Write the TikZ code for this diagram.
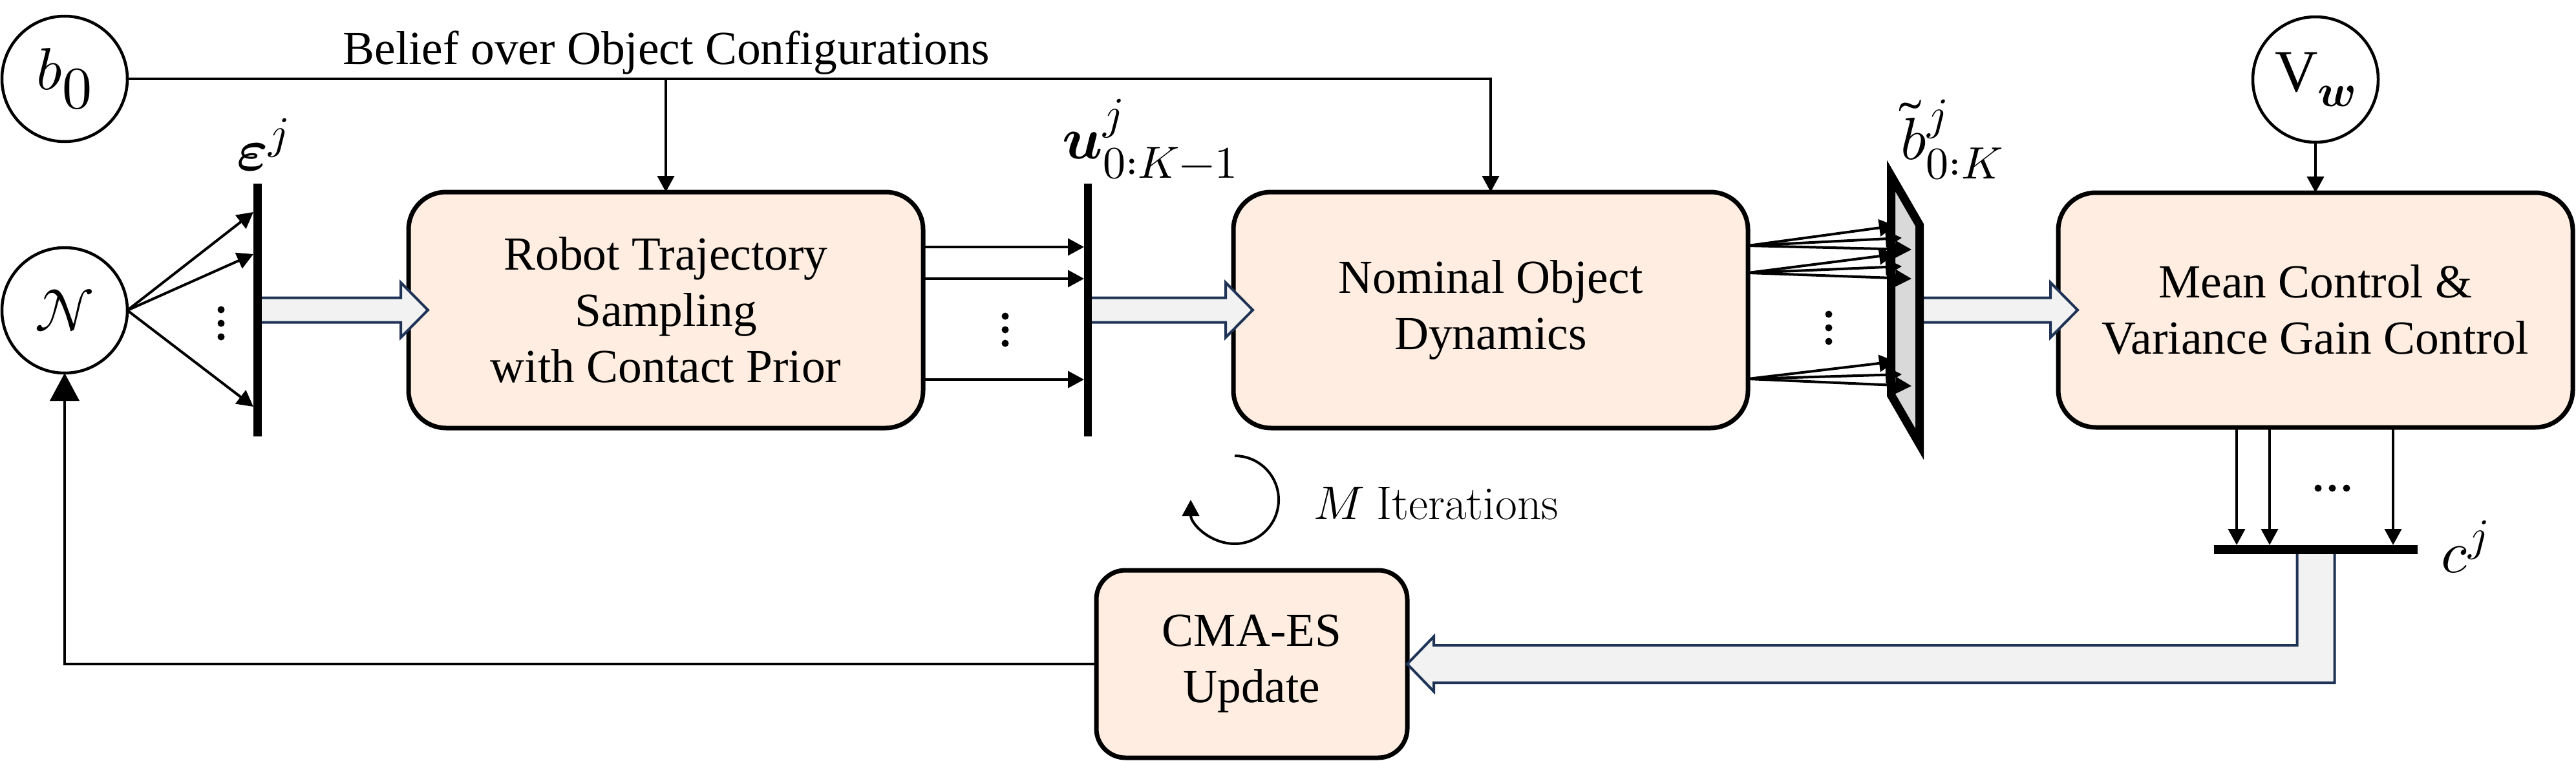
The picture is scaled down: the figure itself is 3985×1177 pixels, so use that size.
\documentclass[tikz,border=0pt]{standalone}
\usepackage{amsmath}
\usepackage{fontspec}
\usepackage{unicode-math}
\setmainfont{Liberation Serif}
\setmathfont{Latin Modern Math}
\newfontfamily\lmfont{Latin Modern Roman}
\DeclareMathSizes{46}{46}{35}{27}
\usetikzlibrary{arrows.meta,calc}
\definecolor{boxfill}{HTML}{FEEDE0}
\definecolor{fatfill}{HTML}{F2F2F2}
\definecolor{fatline}{HTML}{1F3356}
\definecolor{trapfill}{HTML}{D9D9D9}
\tikzset{
  box/.style={draw, line width=3.5pt, rounded corners=29pt, fill=boxfill, inner sep=0pt, outer sep=0pt,
    align=center, font=\fontsize{36.7pt}{43.5pt}\selectfont},
  circ/.style={draw, circle, line width=2.25pt, minimum size=97pt, inner sep=0pt, outer sep=0pt,
    font=\fontsize{46pt}{55pt}\selectfont},
  conn/.style={line width=2pt},
  arr/.style={conn, -{Triangle[length=12.5pt,width=13pt]}},
  bigarr/.style={conn, -{Triangle[length=21.5pt,width=22.5pt]}},
  fat/.style={fill=fatfill, draw=fatline, line width=2pt, line join=miter},
  lbl/.style={inner sep=0pt, font=\fontsize{46pt}{55pt}\selectfont},
  txt/.style={inner sep=0pt, font=\fontsize{36.7pt}{43.5pt}\selectfont},
}
\begin{document}
\begin{tikzpicture}[x=0.5pt, y=-0.5pt]
\useasboundingbox (0,0) rectangle (3985,1177);

% circles
\node[circ] (b0) at (100,122) {$b_{\textstyle 0}$};
\node[circ] (N) at (100,480) {$\mathcal{N}$};
\node[circ] (Vw) at (3582,123) {$\mathrm{V}_{\symbfit{w}}$};

% boxes
\node[box, minimum width=398pt, minimum height=182.5pt] (robot) at (1030,479.5)
  {Robot Trajectory\\Sampling\\with Contact Prior};
\node[box, minimum width=398pt, minimum height=182.5pt] (nominal) at (2306,479.5)
  {Nominal Object\\Dynamics};
\node[box, minimum width=398pt, minimum height=181.5pt] (mean) at (3582,479.5)
  {Mean Control \&\\Variance Gain Control};
\node[box, rounded corners=22.5pt, minimum width=240.5pt, minimum height=145pt] (cma) at (1936.5,1027)
  {CMA-ES\\Update};

% bars (corners)
\coordinate (epsSW) at (392,675); \coordinate (epsNE) at (405,284);
\coordinate (uSW) at (1677,675);  \coordinate (uNE) at (1689,284);
\coordinate (cSW) at (3425,857);  \coordinate (cNE) at (3740,843);
\coordinate (epsbar) at ($(epsSW)!0.5!(epsNE)$);
\coordinate (ubar) at ($(uSW)!0.5!(uNE)$);
\coordinate (cbar) at ($(cSW)!0.5!(cNE)$);

% trapezoid corners
\coordinate (trTL) at (2925.5,272);
\coordinate (trTR) at (2969.5,348);
\coordinate (trBR) at (2969.5,687);
\coordinate (trBL) at (2925.5,611);

% labels
\node[txt, anchor=base] (belief) at (1031,100) {Belief over Object Configurations};
\node[lbl, anchor=base west] (epslbl) at (366,263) {$\symbfit{\varepsilon}^{j}$};
\node[lbl, anchor=base west] (ulbl) at (1643,245) {$\symbfit{u}^{j}_{0:K-1}$};
\node[lbl, anchor=base west] (blbl) at (2940,246) {$\tilde{b}^{j}_{0:K}$};
\node[lbl, anchor=base west] (clbl) at (3776,885) {$c^{j}$};
\node[txt, anchor=base west] (iter) at (2032,803) {$M$ {\lmfont Iterations}};

% belief line
\draw[arr] (b0.east) -| (nominal.north);
\draw[arr] (robot.north |- b0.east) -- (robot.north);
\draw[arr] (Vw.south) -- (mean.north);

% N -> eps bar
\coordinate (e1) at (392,328);
\coordinate (e2) at (392,393);
\coordinate (e3) at (392,629);
\draw[arr] (N.east) -- (e1);
\draw[arr] (N.east) -- (e2);
\draw[arr] (N.east) -- (e3);

% robot -> u bar
\coordinate (u1) at (1677,382);
\coordinate (u2) at (1677,431);
\coordinate (u3) at (1677,587);
\draw[arr] (robot.east |- u1) -- (u1);
\draw[arr] (robot.east |- u2) -- (u2);
\draw[arr] (robot.east |- u3) -- (u3);

% mean -> c bar
\coordinate (m1) at (3460,843);
\coordinate (m2) at (3511,843);
\coordinate (m3) at (3702,843);
\draw[arr] (mean.south -| m1) -- (m1);
\draw[arr] (mean.south -| m2) -- (m2);
\draw[arr] (mean.south -| m3) -- (m3);

% feedback
\draw[bigarr] (cma.west) -| (N.south);

% fat arrows
\draw[fat] let \p1=(epsbar), \p2=(robot.west) in
  (\x1,\y2+9.5pt) -- (\x2-6pt,\y2+9.5pt) -- (\x2-6pt,\y2+21.25pt) -- (\x2+15pt,\y2)
  -- (\x2-6pt,\y2-21.25pt) -- (\x2-6pt,\y2-9.5pt) -- (\x1,\y2-9.5pt) -- cycle;
\draw[fat] let \p1=(ubar), \p2=(nominal.west) in
  (\x1,\y2+9.5pt) -- (\x2-6pt,\y2+9.5pt) -- (\x2-6pt,\y2+21.25pt) -- (\x2+15pt,\y2)
  -- (\x2-6pt,\y2-21.25pt) -- (\x2-6pt,\y2-9.5pt) -- (\x1,\y2-9.5pt) -- cycle;
\draw[fat] let \p1=(trTR), \p2=(mean.west) in
  (\x1,\y2+9.5pt) -- (\x2-6pt,\y2+9.5pt) -- (\x2-6pt,\y2+21.25pt) -- (\x2+15pt,\y2)
  -- (\x2-6pt,\y2-21.25pt) -- (\x2-6pt,\y2-9.5pt) -- (\x1,\y2-9.5pt) -- cycle;
\draw[fat] let \p1=(cbar), \p2=(cma.east) in
  (\x1-14.5pt,\y1) -- (\x1+14.5pt,\y1) -- (\x1+14.5pt,\y2-14.5pt) -- (\x2+20.5pt,\y2-14.5pt)
  -- (\x2+20.5pt,\y2-21.25pt) -- (\x2,\y2) -- (\x2+20.5pt,\y2+21.25pt) -- (\x2+20.5pt,\y2+14.5pt)
  -- (\x1-14.5pt,\y2+14.5pt) -- cycle;

% bars
\fill (epsSW) rectangle (epsNE);
\fill (uSW) rectangle (uNE);
\fill (cSW) rectangle (cNE);

% trapezoid
\draw[fill=trapfill, line width=6.5pt, line join=miter, miter limit=20] (trTL) -- (trTR) -- (trBR) -- (trBL) -- cycle;

% fans: nominal -> trapezoid
\coordinate (f1) at (2704,380);
\coordinate (f2) at (2704,422);
\coordinate (f3) at (2704,586);
\coordinate (t11) at (2932,349);
\coordinate (t12) at (2942,368);
\coordinate (t13) at (2957,386);
\coordinate (t21) at (2932,393);
\coordinate (t22) at (2942,412);
\coordinate (t23) at (2957,431);
\coordinate (t31) at (2932,559);
\coordinate (t32) at (2942,579);
\coordinate (t33) at (2957,597);
\foreach \g in {1,2,3}{
  \foreach \k in {1,2,3}{
    \draw[arr] (nominal.east |- f\g) -- (t\g\k);
  }
}

% dots
\foreach \cx/\cy in {342/500, 1555/510, 2829/507}{
  \fill (\cx,\cy-21) circle[radius=2.75pt];
  \fill (\cx,\cy) circle[radius=2.75pt];
  \fill (\cx,\cy+21) circle[radius=2.75pt];
}
\foreach \cx in {3586,3608,3630}{
  \fill (\cx,755) circle[radius=2.75pt];
}

% iterations arrow
\coordinate (rot) at (1910,705);
\draw[arr] (rot) arc[start angle=90, end angle=-180, radius=34pt];
\end{tikzpicture}
\end{document}
